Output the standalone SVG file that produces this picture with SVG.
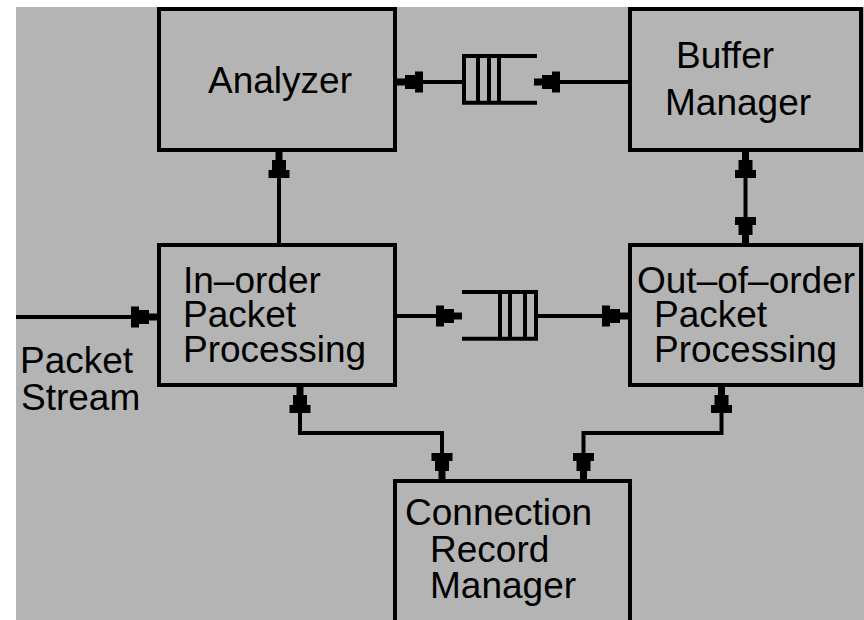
<svg xmlns="http://www.w3.org/2000/svg" width="864" height="620" viewBox="0 0 864 620">
<style>
.box{fill:none;stroke:#000;stroke-width:4}
.ln{fill:none;stroke:#000;stroke-width:4}
.q{fill:none;stroke:#000;stroke-width:4}
text{font-family:"Liberation Sans",Arial,sans-serif;font-size:37px;fill:#000}
</style>
<defs>
<marker id="arr" markerUnits="userSpaceOnUse" markerWidth="30" markerHeight="24" refX="26" refY="11" orient="auto-start-reverse" overflow="visible">
<path d="M0,0.5 H8 V4 H18 V7.5 H26 V14.5 H18 V18 H8 V21.5 H0 Z" fill="#000"/>
</marker>
</defs>
<rect x="0" y="0" width="864" height="620" fill="#fff"/>
<rect x="16" y="7" width="848" height="613" fill="#b4b4b4"/>
<g id="analyzer">
<rect class="box" x="159" y="9" width="236" height="141"/>
<text x="208" y="93">Analyzer</text>
</g>
<g id="buffer-manager">
<rect class="box" x="630" y="9" width="231" height="141"/>
<text x="676" y="68">Buffer</text>
<text x="665" y="115">Manager</text>
</g>
<g id="in-order">
<rect class="box" x="159" y="245" width="236" height="140"/>
<text x="183" y="293">In–order</text>
<text x="183" y="327">Packet</text>
<text x="183" y="362">Processing</text>
</g>
<g id="out-of-order">
<rect class="box" x="630" y="245" width="231" height="140"/>
<text x="637" y="293">Out–of–order</text>
<text x="654" y="327">Packet</text>
<text x="654" y="362">Processing</text>
</g>
<g id="connection-record-manager">
<rect class="box" x="395" y="481" width="235" height="160"/>
<text x="405" y="525">Connection</text>
<text x="430" y="562">Record</text>
<text x="430" y="598">Manager</text>
</g>
<g id="packet-stream">
<text x="20" y="373">Packet</text>
<text x="21" y="410">Stream</text>
</g>
<g id="queue-top">
<path class="q" d="M537,56 H464 V102.7 H537 M478,56 V102.7 M489,56 V102.7 M499,56 V102.7"/>
</g>
<g id="queue-mid">
<path class="q" d="M462,292 H536 V338.7 H462 M500,292 V338.7 M510,292 V338.7 M525,292 V338.7"/>
</g>
<g id="connectors">
<line class="ln" x1="16" y1="317" x2="157" y2="317" marker-end="url(#arr)"/>
<line class="ln" x1="279" y1="245" x2="279" y2="152" marker-end="url(#arr)"/>
<line class="ln" x1="464" y1="82" x2="397" y2="82" marker-end="url(#arr)"/>
<line class="ln" x1="628" y1="82" x2="534" y2="82" marker-end="url(#arr)"/>
<line class="ln" x1="397" y1="316" x2="462" y2="316" marker-end="url(#arr)"/>
<line class="ln" x1="538" y1="316" x2="628" y2="316" marker-end="url(#arr)"/>
<line class="ln" x1="745.5" y1="152" x2="745.5" y2="243" marker-start="url(#arr)" marker-end="url(#arr)"/>
<path class="ln" d="M300,387 V433 H442 V479" marker-start="url(#arr)" marker-end="url(#arr)"/>
<path class="ln" d="M721.5,387 V433 H583.5 V479" marker-start="url(#arr)" marker-end="url(#arr)"/>
</g>
</svg>
